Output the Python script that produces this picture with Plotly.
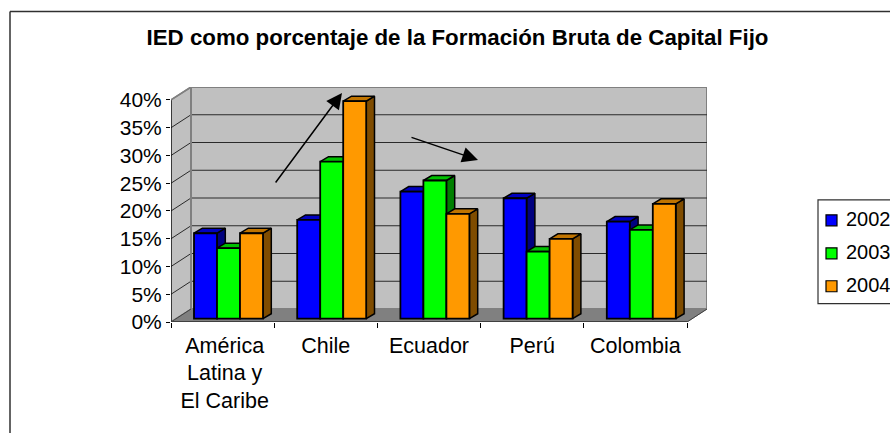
import plotly.graph_objects as go

categories = ["América<br>Latina y<br>El Caribe", "Chile", "Ecuador", "Perú", "Colombia"]
series_names = ["2002", "2003", "2004"]
v2002 = [15.4, 17.8, 22.9, 21.7, 17.5]
v2003 = [12.7, 28.3, 24.9, 12.1, 16.0]
v2004 = [15.4, 39.2, 18.9, 14.4, 20.7]
y_ticks = [0, 5, 10, 15, 20, 25, 30, 35, 40]
y_labels = [f"{t}%" for t in y_ticks]

W, H = 890, 433
L, R, T, B = 171, 707, 87, 322.3
CAT = 103.2
PXV = (B - 100) / 40
WX, WY = 20 / CAT, 13 / PXV           # wall depth in data units
DX, DY = 8.3 / CAT, 5 / PXV           # bar depth
BX0, BW = 23 / CAT, 23 / CAT          # bar group start and bar width
BASE = 3.3 / PXV
n = len(categories)
x_max = (R - L) / CAT
y_max = (B - T) / PXV

front = ["#0000FF", "#00FF00", "#FF9900"]
side = ["#00007F", "#008000", "#7F4C00"]
top = ["#0000C0", "#00C000", "#C07400"]
values = [v2002, v2003, v2004]
LINE = "#000000"
FONT = "Liberation Sans, Arial, sans-serif"


def poly(xs, ys, fill, line, width=1, z=0):
    return go.Scatter(x=xs, y=ys, mode="lines", fill="toself" if fill else None, fillcolor=fill,
                      line=dict(color=line, width=width), showlegend=False, hoverinfo="skip",
                      cliponaxis=False, zorder=z)


fig = go.Figure()
# walls and floor
fig.add_trace(poly([WX, x_max, x_max, WX, WX], [WY, WY, 40 + WY, 40 + WY, WY], "#C0C0C0", "#808080", 2, -10))
fig.add_trace(poly([0, WX, WX, 0, 0], [0, WY, 40 + WY, 40, 0], "#C0C0C0", "#808080", 1.5, -10))
fig.add_trace(poly([0, WX, x_max, n, 0], [0, WY, WY, 0, 0], "#808080", "#808080", 1, -10))
# gridlines
for t in y_ticks[1:-1]:
    fig.add_trace(poly([0, WX, x_max], [t, t + WY, t + WY], None, "#2A2A2A", 1, -9))
fig.add_trace(poly([WX, WX], [WY, 40 + WY], None, "#808080", 2, -9))
# axis lines
fig.add_trace(poly([0, n], [0, 0], None, LINE, 1.2, -8))
fig.add_trace(poly([0, 0], [0, 40], None, LINE, 1.2, -8))
fig.add_trace(poly([0, WX], [0, WY], None, "#404040", 1, -8))
fig.add_trace(poly([0, WX], [40, 40 + WY], None, "#808080", 1.5, -8))
fig.add_trace(poly([n, x_max], [0, WY], None, "#404040", 1, -8))

# bars
for i, vals in enumerate(values):
    centers = [k + BX0 + BW * i + BW / 2 for k in range(n)]
    fig.add_trace(go.Bar(x=centers, y=vals, base=[BASE] * n, width=BW, name=series_names[i],
                         marker=dict(color=front[i], line=dict(color=LINE, width=1.8)),
                         showlegend=False, zorder=2 * i + 1))
    for c, v in zip(centers, vals):
        x0, x1 = c - BW / 2, c + BW / 2
        y1 = BASE + v
        fig.add_trace(poly([x1, x1 + DX, x1 + DX, x1, x1], [BASE, BASE + DY, y1 + DY, y1, BASE],
                           side[i], LINE, 1.5, 2 * i))
        fig.add_trace(poly([x0, x1, x1 + DX, x0 + DX, x0], [y1, y1, y1 + DY, y1 + DY, y1],
                           top[i], LINE, 1.5, 2 * i))


def px(x):
    return (x - L) / (R - L)


def py(y):
    return (B - y) / (B - T)


# frame (open to the window's right and bottom)
shapes = [
    dict(type="line", xref="paper", yref="paper", x0=px(10), x1=px(10), y0=py(11.5), y1=py(440),
         line=dict(color="#303030", width=1.5)),
    dict(type="line", xref="paper", yref="paper", x0=px(10), x1=px(895), y0=py(11.5), y1=py(11.5),
         line=dict(color="#303030", width=1.5)),
    dict(type="rect", xref="paper", yref="paper", x0=px(818), x1=px(900), y0=py(200), y1=py(304),
         fillcolor="white", line=dict(color="#303030", width=1.2)),
]
annotations = []
for i, name in enumerate(series_names):
    yc = 220 + 33 * i
    shapes.append(dict(type="rect", xref="paper", yref="paper", x0=px(826), x1=px(837), y0=py(yc + 6), y1=py(yc - 5),
                       fillcolor=front[i], line=dict(color=LINE, width=1.2)))
    annotations.append(dict(text=name, xref="paper", yref="paper", x=px(844), y=py(yc - 1), showarrow=False,
                            xanchor="left", yanchor="middle", font=dict(size=20, color="black", family=FONT)))
# trend arrows
for (x0, y0, x1, y1) in [(274.5, 184, 342, 93), (410, 137, 478, 160)]:
    annotations.append(dict(text="", xref="paper", yref="paper", x=px(x1), y=py(y1), axref="pixel", ayref="pixel",
                            ax=x0 - x1, ay=y0 - y1, showarrow=True, arrowhead=2, arrowsize=2.1, arrowwidth=1.5,
                            arrowcolor="black"))

fig.update_layout(
    width=W, height=H, autosize=False, barmode="overlay",
    margin=dict(l=L, r=W - R, t=T, b=H - B, pad=0),
    paper_bgcolor="white", plot_bgcolor="rgba(0,0,0,0)", showlegend=False,
    font=dict(family=FONT, color="black", size=20),
    title=dict(text="<b>IED como porcentaje de la Formación Bruta de Capital Fijo</b>", x=457.5 / W, xanchor="center",
               y=1 - 37 / H, yanchor="middle", font=dict(size=22.3, family=FONT, color="black")),
    xaxis=dict(range=[0, x_max], tickmode="array", tickvals=[k + 0.5 + (0.02 if k == 0 else 0) for k in range(n)],
               ticktext=categories, ticks="", showgrid=False, zeroline=False, showline=False, automargin=False,
               tickfont=dict(size=21.5), ticklabelstandoff=8,
               minor=dict(tickmode="array", tickvals=list(range(n + 1)), ticks="outside", ticklen=5, tickcolor="black",
                          tickwidth=1, showgrid=False)),
    yaxis=dict(range=[0, y_max], tickmode="array", tickvals=y_ticks, ticktext=y_labels, ticks="outside", ticklen=4,
               tickcolor="black", tickwidth=1, showgrid=False, zeroline=False, showline=False, automargin=False,
               tickfont=dict(size=21)),
    shapes=shapes, annotations=annotations,
)
fig.write_html("out.html", config={"displayModeBar": False},
               post_script="document.body.style.margin='0';document.documentElement.style.overflow='hidden';")
